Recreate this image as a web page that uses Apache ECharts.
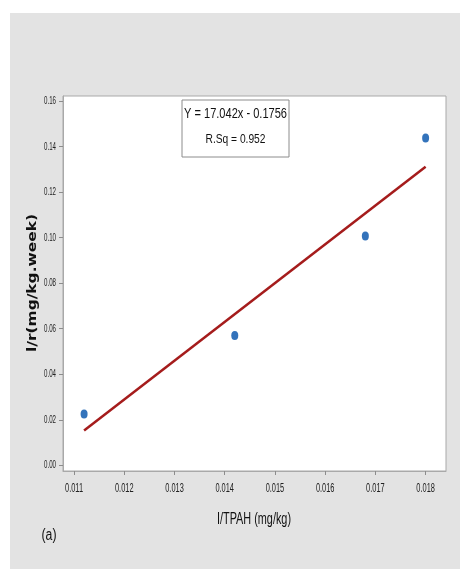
<!DOCTYPE html>
<html>
<head>
<meta charset="utf-8">
<script src="https://cdn.jsdelivr.net/npm/echarts@6/dist/echarts.min.js"></script>
<style>
  html, body { margin: 0; padding: 0; background: #ffffff; }
  #chart { width: 460px; height: 569px; }
</style>
</head>
<body>
<div id="chart"></div>
<script>
// Measured points: 1/TPAH against 1/r
var invTpah = [0.0112, 0.0142, 0.0168, 0.0180];
var invRate = [0.0225, 0.0570, 0.1007, 0.1437];

// Fitted line coefficients
var slope = 17.042;
var intercept = -0.1756;
var rSquared = 0.952;

// Tick labels
var xTicks = [0.011, 0.012, 0.013, 0.014, 0.015, 0.016, 0.017, 0.018];
var yTicks = [0.00, 0.02, 0.04, 0.06, 0.08, 0.10, 0.12, 0.14, 0.16];

// Axis extents
var xMin = 0.01078, xMax = 0.018406;
var yMin = -0.0025, yMax = 0.1622;

var sans = "'Liberation Sans', Arial, sans-serif";

// Horizontal scale that squeezes a string to a target width (condensed look)
var measureCtx = document.createElement('canvas').getContext('2d');
function fitScale(text, font, width) {
  measureCtx.font = font;
  return width / measureCtx.measureText(text).width;
}

function squeezedText(text, font, cx, cy, width, rotate) {
  var s = fitScale(text, font, width);
  return {
    type: 'text', z: 50, silent: true,
    x: cx, y: cy,
    rotation: rotate || 0,
    scaleX: s, scaleY: 1,
    style: {
      x: 0, y: 0, text: text, font: font, fill: '#111111',
      align: 'center', verticalAlign: 'middle'
    }
  };
}

var xTickFont = '12px ' + sans;
var yTickFont = '11px ' + sans;
var xTickScale = fitScale('0.011', xTickFont, 18);
var yTickScale = fitScale('0.16', yTickFont, 12);

var points = invTpah.map(function (x, i) { return [x, invRate[i]]; });
var fitEnds = [invTpah[0], invTpah[invTpah.length - 1]];
var fitLine = fitEnds.map(function (x) { return [x, slope * x + intercept]; });

var eqText = 'Y = ' + slope.toFixed(3) + 'x - ' + Math.abs(intercept).toFixed(4);
var rsqText = 'R.Sq = ' + rSquared.toFixed(3);

var chart = echarts.init(document.getElementById('chart'), null, { renderer: 'canvas' });

chart.setOption({
  backgroundColor: '#ffffff',
  animation: false,
  graphic: [
    {
      type: 'rect', z: -10, silent: true,
      shape: { x: 10, y: 13, width: 450, height: 556 },
      style: { fill: '#e3e3e3' }
    },
    {
      type: 'rect', z: 49, silent: true,
      shape: { x: 182, y: 100, width: 107, height: 57 },
      style: { fill: '#ffffff', stroke: '#8c8c8c', lineWidth: 1 }
    },
    squeezedText(eqText, '15px ' + sans, 235.5, 114, 103),
    squeezedText(rsqText, '13px ' + sans, 235.5, 139, 60),
    squeezedText('(a)', '16px ' + sans, 49, 536, 15),
    squeezedText('I/TPAH (mg/kg)', '16px ' + sans, 254, 520, 74),
    squeezedText('l/r(mg/kg.week)', "bold 12px 'DejaVu Sans', sans-serif", 33, 283, 138, Math.PI / 2)
  ],
  grid: {
    left: 63, top: 96, right: 14, bottom: 98,
    show: true, backgroundColor: '#ffffff',
    borderColor: '#a9a9a9', borderWidth: 1
  },
  xAxis: {
    type: 'value',
    min: xMin, max: xMax,
    splitLine: { show: false },
    axisLine: { show: true, onZero: false, lineStyle: { color: '#a9a9a9' } },
    axisTick: { show: true, length: 4, customValues: xTicks, lineStyle: { color: '#8c8c8c' } },
    axisLabel: { show: false }
  },
  yAxis: {
    type: 'value',
    min: yMin, max: yMax,
    splitLine: { show: false },
    axisLine: { show: true, onZero: false, lineStyle: { color: '#a9a9a9' } },
    axisTick: { show: true, length: 4, customValues: yTicks, lineStyle: { color: '#8c8c8c' } },
    axisLabel: { show: false }
  },
  series: [
    {
      type: 'line',
      data: fitLine,
      showSymbol: false,
      lineStyle: { color: '#a51c1c', width: 2.5 },
      z: 3
    },
    {
      type: 'scatter',
      data: points,
      symbol: 'circle',
      symbolSize: [7, 9],
      itemStyle: { color: '#0050aa' },
      z: 4
    },
    {
      // x tick labels, condensed, placed through the x scale
      type: 'custom',
      clip: false, silent: true,
      data: xTicks.map(function (v) { return [v, yMin]; }),
      renderItem: function (params, api) {
        var p = api.coord([api.value(0), api.value(1)]);
        return {
          type: 'text', x: p[0], y: p[1] + 18,
          scaleX: xTickScale,
          style: {
            x: 0, y: 0, text: api.value(0).toFixed(3), font: xTickFont,
            fill: '#222222', align: 'center', verticalAlign: 'middle'
          }
        };
      }
    },
    {
      // y tick labels, condensed, placed through the y scale
      type: 'custom',
      clip: false, silent: true,
      data: yTicks.map(function (v) { return [xMin, v]; }),
      renderItem: function (params, api) {
        var p = api.coord([api.value(0), api.value(1)]);
        return {
          type: 'text', x: p[0] - 7, y: p[1],
          scaleX: yTickScale,
          style: {
            x: 0, y: 0, text: api.value(1).toFixed(2), font: yTickFont,
            fill: '#222222', align: 'right', verticalAlign: 'middle'
          }
        };
      }
    }
  ]
});
</script>
</body>
</html>
